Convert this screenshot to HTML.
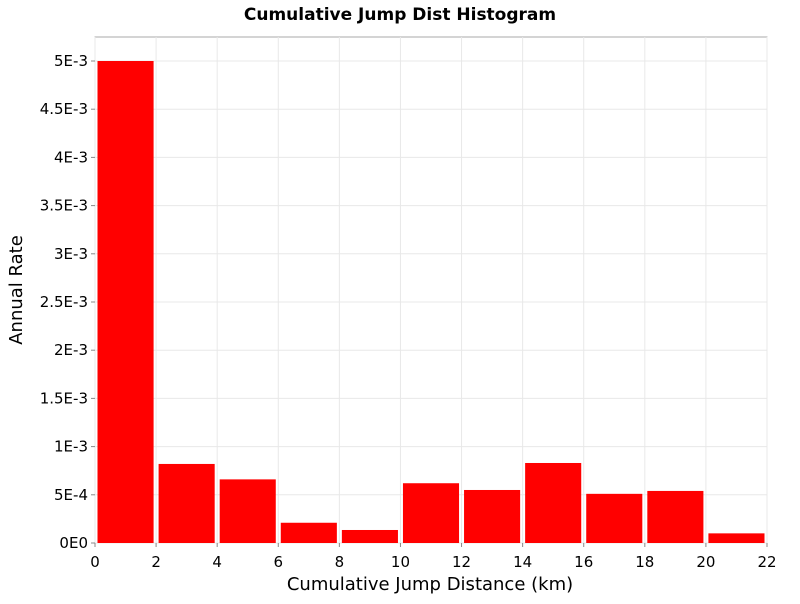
<!DOCTYPE html>
<html><head><meta charset="utf-8"><style>
body{margin:0;background:#fff;font-family:"DejaVu Sans","Liberation Sans",sans-serif;}
</style></head><body>
<svg width="800" height="600" xmlns="http://www.w3.org/2000/svg">
<text x="400" y="20" text-anchor="middle" font-size="17" font-weight="bold" fill="#000">Cumulative Jump Dist Histogram</text>
<rect x="95" y="37" width="672" height="506" fill="#fff" stroke="#aaa"/>
<g id="grid"></g><g id="bars"></g><g id="axes"></g>
<text x="430" y="590" text-anchor="middle" font-size="18">Cumulative Jump Distance (km)</text>
<text transform="translate(22,290) rotate(-90)" text-anchor="middle" font-size="18">Annual Rate</text>
</svg>
<script>
const binStarts=[0,2,4,6,8,10,12,14,16,18,20];
const rates=[0.005,0.00082,0.00066,0.00021,0.000135,0.00062,0.00055,0.00083,0.00051,0.00054,0.00010];
const xTicks=[0,2,4,6,8,10,12,14,16,18,20,22];
const yTicks=[0,0.0005,0.001,0.0015,0.002,0.0025,0.003,0.0035,0.004,0.0045,0.005];
const yTickLabels=["0E0","5E-4","1E-3","1.5E-3","2E-3","2.5E-3","3E-3","3.5E-3","4E-3","4.5E-3","5E-3"];
const binWidth=2;
const NS="http://www.w3.org/2000/svg";
const x=v=>95+v*(672/22);
const y=v=>543-v*(482/0.005);
const grid=document.getElementById('grid'),bars=document.getElementById('bars'),axes=document.getElementById('axes');
function mk(t,a,p){const e=document.createElementNS(NS,t);for(const k in a)e.setAttribute(k,a[k]);p.appendChild(e);return e;}
xTicks.forEach(t=>{
 const g=mk('line',{x1:x(t),x2:x(t),y1:37,y2:543,stroke:'#e8e8e8'},grid);
 
 
 const l=mk('text',{x:x(t),y:567,'text-anchor':'middle','font-size':15},axes);
 l.textContent=t;
 
 
 mk('line',{x1:x(t),x2:x(t),y1:543,y2:547,stroke:'#888'},axes);
});
yTicks.forEach((t,i)=>{
 const g=mk('line',{x1:95,x2:767,y1:y(t),y2:y(t),stroke:'#e8e8e8'},grid);
 
 
 const l=mk('text',{x:88,y:y(t)+5,'text-anchor':'end','font-size':15},axes);
 l.textContent=yTickLabels[i];
 
 
 mk('line',{x1:91,x2:95,y1:y(t),y2:y(t),stroke:'#888'},axes);
});
binStarts.forEach((s,i)=>{
 const b=mk('rect',{x:x(s)+2.5,y:y(rates[i]),width:x(s+binWidth)-x(s)-5,height:543-y(rates[i]),fill:'#ff0000'},bars);
 
 
});
</script>
</body></html>
